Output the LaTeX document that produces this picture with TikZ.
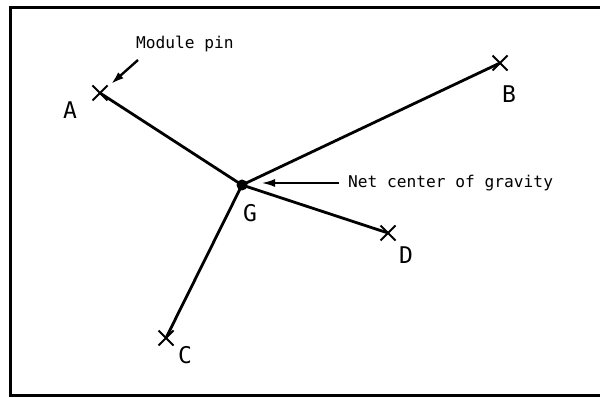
\documentclass[tikz,border=0pt]{standalone}
\usepackage{fontspec}
\setmonofont{DejaVu Sans Mono}
\usetikzlibrary{arrows.meta,shapes.misc}

\begin{document}
\begin{tikzpicture}[
  x=1pt,y=-1pt,
  font=\ttfamily,
  >=Latex,
  pinx/.style={cross out,draw,minimum size=13pt,inner sep=0pt,line width=2pt},
  wire/.style={line width=2.8pt},
  letter/.style={font=\ttfamily\fontsize{23}{23}\selectfont,inner sep=0pt},
  note/.style={font=\ttfamily\fontsize{16.2}{17}\selectfont,anchor=west,inner sep=0pt},
  pointer/.style={->,line width=1.6pt,>={Latex[length=13pt,width=8pt]}}
]
\useasboundingbox (0,0) rectangle (600,398);
\draw[line width=3pt] (606,7.5) -| (10,395.5) -- (606,395.5);

% module pins and the net centre
\node[pinx] (pinA) at (100,93) {};
\node[pinx] (pinB) at (500,63) {};
\node[pinx] (pinC) at (166,338) {};
\node[pinx] (pinD) at (388,233) {};
\node[circle,fill,inner sep=0pt,minimum size=11pt] (g) at (242,185) {};

\node[letter] (labA) at (70,110) {A};
\node[letter] (labB) at (509,94) {B};
\node[letter] (labC) at (185,355) {C};
\node[letter] (labD) at (406,255) {D};
\node[letter] (labG) at (250,213) {G};

\foreach \p in {pinA,pinB,pinC,pinD}
  \draw[wire] (g.center) -- (\p.center);

% annotations
\node[note] (modpin) at (136,44) {Module pin};
\node[note] (netcog) at (348,183) {Net center of gravity};
\coordinate (modtail) at (138,60);
\coordinate (modtip) at (111,84);
\coordinate (cogtail) at (339,183);
\coordinate (cogtip) at (262,183);
\draw[pointer,line width=2.4pt] (modtail) -- (modtip);
\draw[pointer] (cogtail) -- (cogtip);
\end{tikzpicture}
\end{document}
